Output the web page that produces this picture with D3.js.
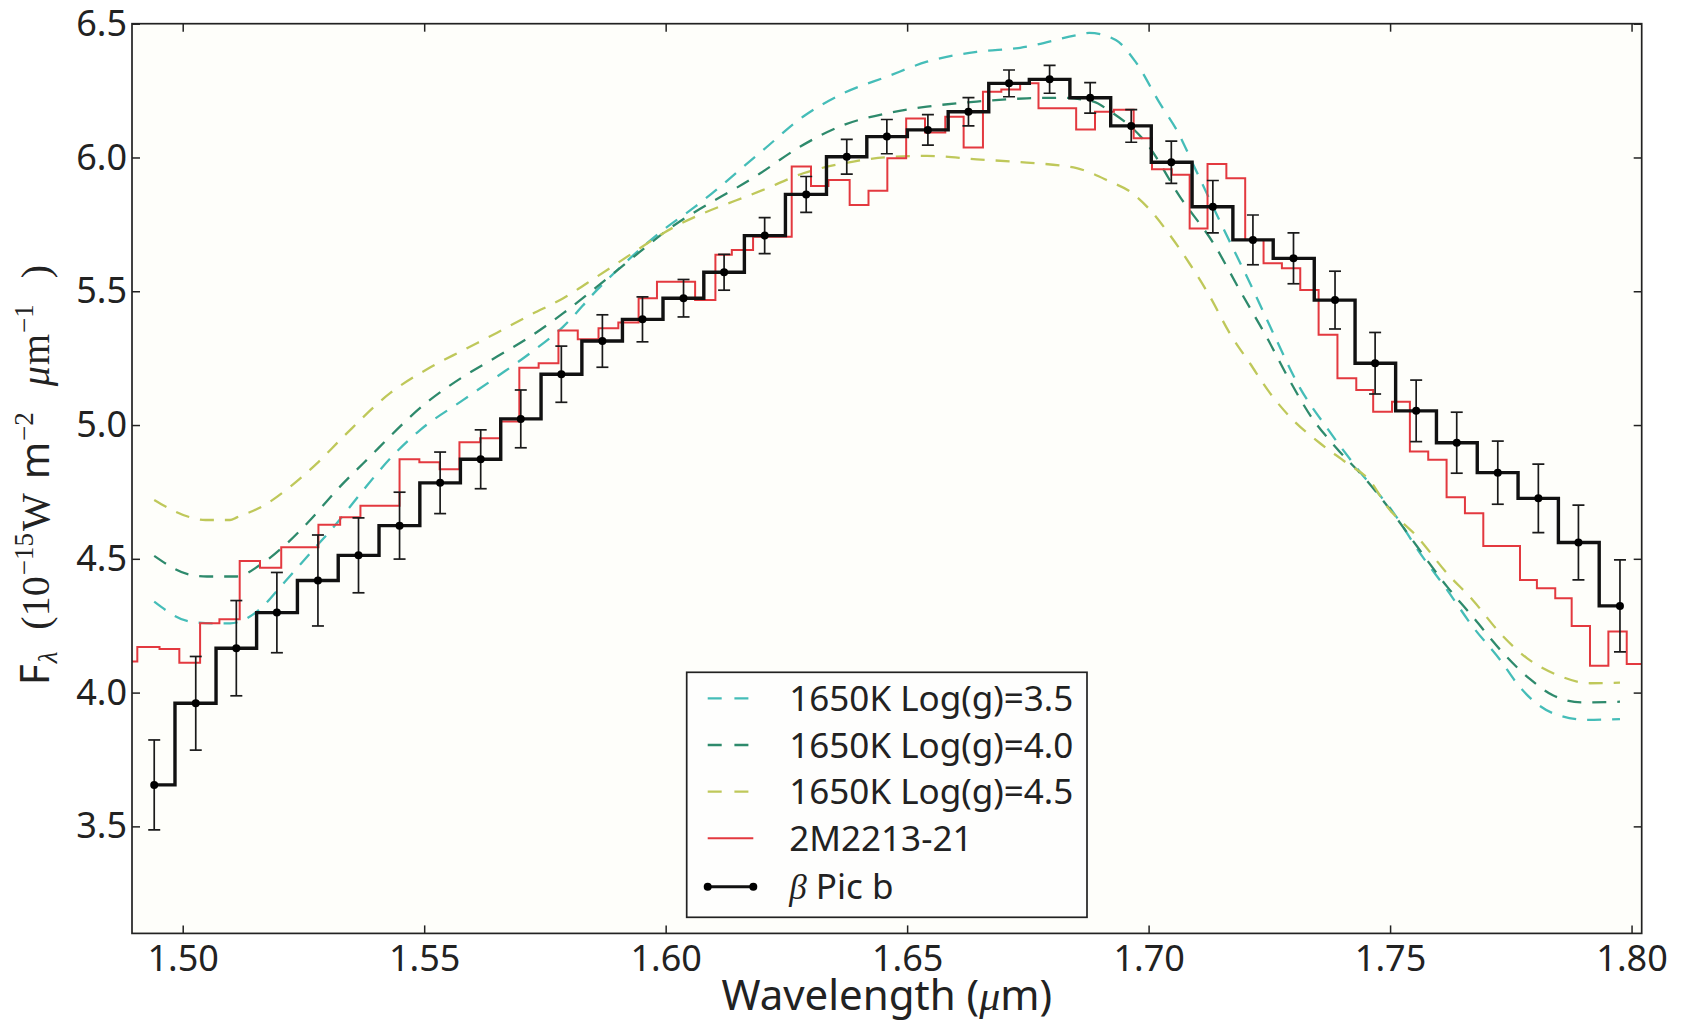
<!DOCTYPE html>
<html><head><meta charset="utf-8">
<script src="https://cdn.jsdelivr.net/npm/d3@7"></script>
<style>
html,body{margin:0;padding:0;background:#fff;}
svg{display:block;}
</style></head><body>
<svg id="chart" width="1692" height="1023"></svg>
<script>
// ---------------- DATA ----------------
// beta Pic b (GPI H-band spectrum): wavelength (um), flux, 1-sigma error
const picWave = [1.4941,1.5027,1.5111,1.5195,1.5280,1.5364,1.5449,1.5533,1.5617,1.5700,
  1.5784,1.5869,1.5952,1.6037,1.6121,1.6205,1.6291,1.6375,1.6458,1.6543,
  1.6627,1.6711,1.6795,1.6879,1.6964,1.7047,1.7133,1.7216,1.7300,1.7386,
  1.7469,1.7554,1.7638,1.7723,1.7807,1.7890,1.7976];
const picFlux = [3.655,3.960,4.166,4.299,4.419,4.513,4.624,4.784,4.872,5.023,
  5.190,5.314,5.395,5.474,5.571,5.708,5.862,6.003,6.078,6.103,
  6.171,6.277,6.292,6.223,6.118,5.982,5.816,5.692,5.623,5.467,
  5.231,5.053,4.934,4.822,4.726,4.561,4.324];
const picErr = [0.168,0.175,0.178,0.150,0.170,0.140,0.125,0.115,0.110,0.108,
  0.105,0.098,0.084,0.070,0.067,0.067,0.067,0.065,0.064,0.057,
  0.053,0.050,0.052,0.057,0.061,0.079,0.098,0.093,0.095,0.108,
  0.115,0.115,0.114,0.118,0.128,0.140,0.172];

// 2M2213-21 comparison spectrum: bin edges (um) and flux per bin
const refEdges = [1.4885,1.4906,1.4952,1.4993,1.5036,1.5076,1.5118,1.5160,1.5204,1.5243,
  1.5281,1.5326,1.5368,1.5409,1.5449,1.5490,1.5532,1.5573,1.5616,1.5657,
  1.5697,1.5737,1.5778,1.5818,1.5861,1.5902,1.5944,1.5982,1.6020,1.6061,
  1.6103,1.6137,1.6181,1.6220,1.6261,1.6301,1.6337,1.6381,1.6420,1.6459,
  1.6498,1.6537,1.6579,1.6617,1.6657,1.6695,1.6734,1.6772,1.6811,1.6850,
  1.6889,1.6928,1.6969,1.7007,1.7048,1.7085,1.7122,1.7161,1.7200,1.7238,
  1.7276,1.7314,1.7352,1.7391,1.7430,1.7465,1.7504,1.7541,1.7579,1.7617,
  1.7655,1.7693,1.7731,1.7769,1.7804,1.7842,1.7876,1.7914,1.7952,1.7990,1.8030];
const refFlux = [4.116,4.170,4.163,4.112,4.259,4.274,4.492,4.467,4.543,4.543,
  4.627,4.655,4.698,4.698,4.872,4.861,4.835,4.936,4.951,5.013,
  5.214,5.231,5.353,5.321,5.362,5.383,5.474,5.536,5.536,5.467,
  5.636,5.654,5.704,5.704,5.966,5.893,5.916,5.822,5.876,5.997,
  6.146,6.093,6.152,6.037,6.246,6.254,6.277,6.184,6.184,6.105,
  6.171,6.178,6.072,5.956,5.935,5.735,5.976,5.922,5.692,5.605,
  5.586,5.505,5.337,5.175,5.131,5.050,5.087,4.901,4.870,4.730,
  4.670,4.548,4.548,4.421,4.390,4.353,4.249,4.100,4.228,4.107];

// 1650K models
const m35Wave = [1.4941,1.5016,1.5063,1.5098,1.5154,1.5209,1.5264,1.5319,1.5374,1.5430,
  1.5492,1.5581,1.5651,1.5719,1.5788,1.5858,1.5926,1.5995,1.6061,1.6202,
  1.6285,1.6368,1.6458,1.6541,1.6644,1.6734,1.6853,1.6877,1.6932,1.6972,
  1.7024,1.7059,1.7096,1.7148,1.7210,1.7259,1.7313,1.7369,1.7431,1.7508,
  1.7562,1.7618,1.7671,1.7728,1.7769,1.7837,1.7908,1.7976];
const m35Flux = [4.340,4.265,4.259,4.259,4.303,4.409,4.521,4.633,4.757,4.876,
  4.982,5.094,5.181,5.268,5.368,5.505,5.623,5.729,5.816,6.028,
  6.153,6.240,6.302,6.358,6.395,6.410,6.458,6.466,6.439,6.360,
  6.200,6.100,5.960,5.760,5.530,5.340,5.140,4.990,4.840,4.670,
  4.521,4.384,4.247,4.122,4.020,3.923,3.898,3.901];

const m40Wave = [1.4941,1.5016,1.5050,1.5112,1.5160,1.5216,1.5264,1.5319,1.5374,1.5512,
  1.5581,1.5651,1.5719,1.5788,1.5858,1.5926,1.5995,1.6196,1.6278,1.6368,
  1.6458,1.6541,1.6644,1.6748,1.6817,1.6886,1.6916,1.6997,1.7065,1.7134,
  1.7190,1.7244,1.7291,1.7337,1.7386,1.7448,1.7506,1.7556,1.7618,1.7671,
  1.7728,1.7790,1.7837,1.7900,1.7976];
const m40Flux = [4.511,4.440,4.434,4.434,4.477,4.558,4.645,4.757,4.857,5.094,
  5.181,5.256,5.330,5.418,5.517,5.617,5.717,5.941,6.040,6.121,
  6.165,6.190,6.209,6.221,6.223,6.209,6.178,6.050,5.853,5.680,
  5.500,5.330,5.170,5.030,4.920,4.800,4.670,4.546,4.396,4.284,
  4.160,4.050,3.990,3.963,3.966];

const m45Wave = [1.4941,1.5016,1.5047,1.5098,1.5112,1.5167,1.5223,1.5278,1.5333,1.5430,
  1.5512,1.5581,1.5651,1.5719,1.5788,1.5858,1.5926,1.5995,1.6210,1.6285,
  1.6368,1.6458,1.6541,1.6644,1.6748,1.6851,1.6920,1.6962,1.7003,1.7044,
  1.7086,1.7127,1.7169,1.7210,1.7251,1.7293,1.7355,1.7411,1.7459,1.7494,
  1.7556,1.7618,1.7671,1.7728,1.7784,1.7846,1.7914,1.7976];
const m45Flux = [4.720,4.655,4.645,4.645,4.655,4.698,4.770,4.857,4.957,5.120,
  5.215,5.280,5.345,5.411,5.474,5.555,5.636,5.717,5.885,5.941,
  5.978,6.001,6.006,5.993,5.981,5.960,5.910,5.872,5.804,5.710,
  5.600,5.480,5.340,5.230,5.120,5.030,4.932,4.857,4.790,4.695,
  4.583,4.446,4.346,4.222,4.128,4.066,4.035,4.037];

const xTicks = [1.50,1.55,1.60,1.65,1.70,1.75,1.80];
const yTicks = [3.5,4.0,4.5,5.0,5.5,6.0,6.5];
const seriesLabels = ["1650K Log(g)=3.5","1650K Log(g)=4.0","1650K Log(g)=4.5","2M2213-21","Pic b"];

// ---------------- DRAWING ----------------
const W = 1692, H = 1023;
const plot = {left:132, right:1641.7, top:23.7, bottom:933.4};
const SANS = "'Noto Sans', 'Open Sans', sans-serif";
const SERIF = "'Liberation Serif', 'DejaVu Serif', serif";
const colors = {m35:"#45bdb8", m40:"#2e8a6c", m45:"#bfc85a", ref:"#e3393f", pic:"#111"};

const x = d3.scaleLinear().domain([1.4895, 1.8021]).range([plot.left, plot.right]);
const y = d3.scaleLinear().domain([3.1, 6.5]).range([plot.bottom, plot.top]);

const svg = d3.select("#chart");
svg.append("rect").attr("width", W).attr("height", H).attr("fill", "#fff");
svg.append("rect").attr("x", plot.left).attr("y", plot.top)
  .attr("width", plot.right - plot.left).attr("height", plot.bottom - plot.top)
  .attr("fill", "#fefefa");

svg.append("defs").append("clipPath").attr("id", "clip").append("rect")
  .attr("x", plot.left).attr("y", plot.top)
  .attr("width", plot.right - plot.left).attr("height", plot.bottom - plot.top);

const g = svg.append("g").attr("clip-path", "url(#clip)");

const smooth = d3.line().x(d => x(d[0])).y(d => y(d[1])).curve(d3.curveMonotoneX);
const models = [
  {w:m35Wave, f:m35Flux, c:colors.m35},
  {w:m40Wave, f:m40Flux, c:colors.m40},
  {w:m45Wave, f:m45Flux, c:colors.m45}
];
models.forEach(m => {
  g.append("path").datum(d3.zip(m.w, m.f)).attr("d", smooth)
    .attr("fill", "none").attr("stroke", m.c).attr("stroke-width", 2.3)
    .attr("stroke-dasharray", "14,11");
});

// comparison object (binned, step)
const refPts = refEdges.map((e, i) => [e, refFlux[Math.min(i, refFlux.length - 1)]]);
g.append("path").datum(refPts)
  .attr("d", d3.line().x(d => x(d[0])).y(d => y(d[1])).curve(d3.curveStepAfter))
  .attr("fill", "none").attr("stroke", colors.ref).attr("stroke-width", 2);

// beta Pic b step
const picPts = d3.zip(picWave, picFlux);
g.append("path").datum(picPts)
  .attr("d", d3.line().x(d => x(d[0])).y(d => y(d[1])).curve(d3.curveStep))
  .attr("fill", "none").attr("stroke", colors.pic).attr("stroke-width", 3.4)
  .attr("stroke-linejoin", "miter");

// error bars
const eb = g.append("g").attr("stroke", "#1a1a1a").attr("stroke-width", 1.7);
picWave.forEach((w, i) => {
  const cx = x(w), y1 = y(picFlux[i] - picErr[i]), y2 = y(picFlux[i] + picErr[i]);
  eb.append("line").attr("x1", cx).attr("x2", cx).attr("y1", y1).attr("y2", y2);
  eb.append("line").attr("x1", cx - 6).attr("x2", cx + 6).attr("y1", y1).attr("y2", y1);
  eb.append("line").attr("x1", cx - 6).attr("x2", cx + 6).attr("y1", y2).attr("y2", y2);
});
g.append("g").selectAll("circle").data(picPts).join("circle")
  .attr("cx", d => x(d[0])).attr("cy", d => y(d[1])).attr("r", 4).attr("fill", "#000");

// axes
function styleAxis(sel) {
  sel.select(".domain").remove();
  sel.selectAll(".tick line").attr("stroke", "#222").attr("stroke-width", 1.5);
  sel.selectAll(".tick text").attr("fill", "#222").style("font-family", SANS).style("font-size", "36px");
}
svg.append("g").attr("transform", `translate(0,${plot.bottom})`)
  .call(d3.axisBottom(x).tickValues(xTicks).tickFormat(d3.format(".2f")).tickSize(-8).tickPadding(12))
  .call(styleAxis);
svg.append("g").attr("transform", `translate(0,${plot.top})`)
  .call(d3.axisTop(x).tickValues(xTicks).tickFormat("").tickSize(-8))
  .call(styleAxis);
svg.append("g").attr("transform", `translate(${plot.left},0)`)
  .call(d3.axisLeft(y).tickValues(yTicks).tickFormat(d3.format(".1f")).tickSize(-8).tickPadding(5))
  .call(styleAxis);
svg.append("g").attr("transform", `translate(${plot.right},0)`)
  .call(d3.axisRight(y).tickValues(yTicks).tickFormat("").tickSize(-8))
  .call(styleAxis);

svg.append("rect").attr("x", plot.left).attr("y", plot.top)
  .attr("width", plot.right - plot.left).attr("height", plot.bottom - plot.top)
  .attr("fill", "none").attr("stroke", "#222").attr("stroke-width", 1.7);

// x label
const xl = svg.append("text").attr("x", (plot.left + plot.right) / 2).attr("y", 1010)
  .attr("text-anchor", "middle").attr("fill", "#222").style("font-size", "42px");
xl.append("tspan").style("font-family", SANS).text("Wavelength (");
xl.append("tspan").style("font-family", SERIF).style("font-style", "italic").text("μ");
xl.append("tspan").style("font-family", SANS).text("m)");

// y label
const yl = svg.append("text").attr("transform", `translate(49,475) rotate(-90)`)
  .attr("text-anchor", "middle").attr("fill", "#222");
const part = (txt, fam, size, dy, dx, ital) => {
  const t = yl.append("tspan").style("font-family", fam).style("font-size", size + "px").text(txt);
  if (dy) t.attr("dy", dy);
  if (dx) t.attr("dx", dx);
  if (ital) t.style("font-style", "italic");
};
part("F", SANS, 40, 0, 0);
part("λ", SERIF, 27, 8, 1, true);
part("(10", SERIF, 40, -8, 22);
part("−15", SERIF, 27, -16, 1);
part("W", SERIF, 40, 16, 2);
part("m", SANS, 40, 0, 14);
part("−2", SERIF, 27, -16, 1);
part("μ", SERIF, 40, 16, 26, true);
part("m", SERIF, 40, 0, 1);
part("−1", SERIF, 27, -16, 1);
part(")", SERIF, 40, 16, 26);

// legend
const lg = svg.append("g");
lg.append("rect").attr("x", 686.7).attr("y", 672.3).attr("width", 400.3).attr("height", 245)
  .attr("fill", "#fefefd").attr("stroke", "#222").attr("stroke-width", 1.7);
const rowY = [698.3, 745, 791.7, 838.3, 886.7];
const hx1 = 707.7, hx2 = 753.3, tx = 789.3;
[colors.m35, colors.m40, colors.m45].forEach((c, i) => {
  lg.append("line").attr("x1", hx1).attr("x2", hx2).attr("y1", rowY[i]).attr("y2", rowY[i])
    .attr("stroke", c).attr("stroke-width", 2.3).attr("stroke-dasharray", "14,12.7");
});
lg.append("line").attr("x1", hx1).attr("x2", hx2).attr("y1", rowY[3]).attr("y2", rowY[3])
  .attr("stroke", colors.ref).attr("stroke-width", 2);
lg.append("line").attr("x1", hx1).attr("x2", hx2).attr("y1", rowY[4]).attr("y2", rowY[4])
  .attr("stroke", "#111").attr("stroke-width", 3);
[hx1, hx2].forEach(cx => lg.append("circle").attr("cx", cx).attr("cy", rowY[4]).attr("r", 4).attr("fill", "#000"));
seriesLabels.forEach((lab, i) => {
  const t = lg.append("text").attr("x", tx).attr("y", rowY[i]).attr("dy", "0.36em")
    .attr("fill", "#222").style("font-family", SANS).style("font-size", "35px");
  if (i === 4) {
    t.append("tspan").style("font-family", SERIF).style("font-style", "italic").text("β");
    t.append("tspan").text(" " + lab);
  } else {
    t.text(lab);
  }
});
</script>
</body></html>
